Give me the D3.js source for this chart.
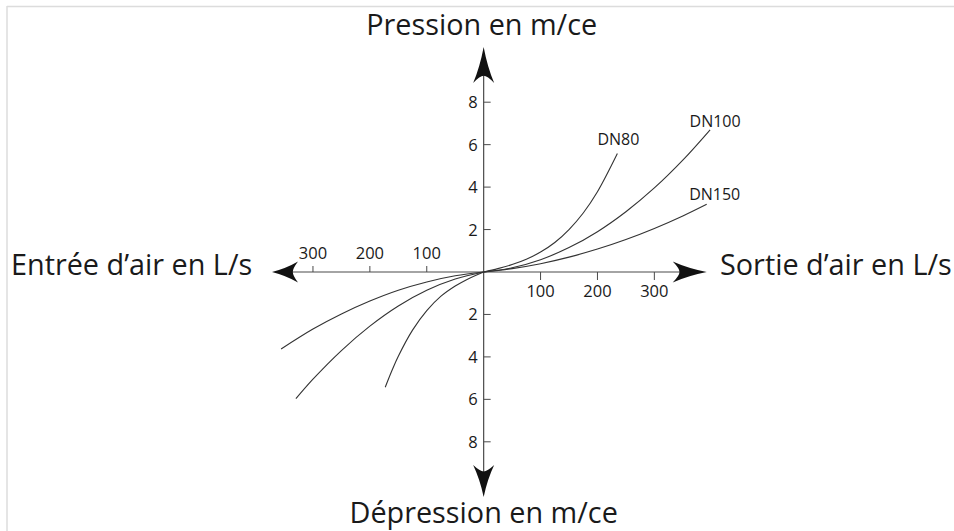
<!DOCTYPE html>
<html>
<head>
<meta charset="utf-8">
<script src="https://cdn.jsdelivr.net/npm/d3@7"></script>
<style>
  html, body { margin: 0; padding: 0; background: #fff; }
  svg { display: block; }
  text { font-family: "Open Sans", "Noto Sans", sans-serif; fill: #1a1a1a; }
</style>
</head>
<body>
<svg id="chart" width="954" height="531"></svg>
<script>
// ---- Data (flow in L/s, pressure in m/ce) ----
const curveNames = ["DN80", "DN100", "DN150"];
const outletDN80  = [[0,0],[25,0.16],[50,0.35],[75,0.6],[100,0.94],[125,1.39],[150,2.0],[175,2.78],[200,3.78],[235,5.58]];
const outletDN100 = [[0,0],[50,0.2],[100,0.58],[150,1.15],[200,1.9],[250,2.84],[300,3.96],[350,5.27],[398,6.7]];
const outletDN150 = [[0,0],[50,0.16],[100,0.39],[150,0.7],[200,1.08],[250,1.53],[300,2.05],[350,2.64],[392,3.19]];
const inletDN80   = [[0,0],[-30,-0.36],[-50,-0.66],[-75,-1.14],[-100,-1.82],[-125,-2.74],[-150,-3.97],[-161,-4.63],[-173,-5.43]];
const inletDN100  = [[0,0],[-50,-0.33],[-100,-0.86],[-150,-1.6],[-200,-2.55],[-250,-3.7],[-300,-5.05],[-330,-5.97]];
const inletDN150  = [[0,0],[-50,-0.18],[-100,-0.47],[-150,-0.86],[-200,-1.37],[-250,-1.98],[-300,-2.69],[-356,-3.63]];
const xTickValues = [-300, -200, -100, 100, 200, 300];
const yTickValues = [-8, -6, -4, -2, 2, 4, 6, 8];
const axisTitles = {
  top: "Pression en m/ce",
  bottom: "Dépression en m/ce",
  left: "Entrée d’air en L/s",
  right: "Sortie d’air en L/s"
};

// ---- Scales ----
const svg = d3.select("#chart");
const x = d3.scaleLinear().domain([-372, 392]).range([272, 706.7]);
const y = d3.scaleLinear().domain([-10.6, 10.6]).range([497, 47]);
const x0 = x(0), y0 = y(0);

// frame lines (light border of the original picture)
svg.append("line").attr("x1", 7).attr("x2", 954).attr("y1", 6.5).attr("y2", 6.5)
  .attr("stroke", "#dcdcdc").attr("stroke-width", 1.5);
svg.append("line").attr("x1", 7).attr("x2", 7).attr("y1", 6).attr("y2", 531)
  .attr("stroke", "#dcdcdc").attr("stroke-width", 1.5);

const axisColor = "#4a4a4a";
// axis lines
svg.append("line").attr("x1", x.range()[0] + 10).attr("x2", x.range()[1] - 10)
  .attr("y1", y0).attr("y2", y0).attr("stroke", axisColor).attr("stroke-width", 1.2);
svg.append("line").attr("x1", x0).attr("x2", x0)
  .attr("y1", y.range()[1] + 10).attr("y2", y.range()[0] - 10)
  .attr("stroke", axisColor).attr("stroke-width", 1.2);

// arrow heads (stealth style), drawn pointing "up" then rotated
function arrow(tx, ty, angle, len, half) {
  const notch = len * 0.8;
  const p = `M0,0 Q${-half*0.35},${len*0.55} ${-half},${len} Q${-half*0.35},${notch} 0,${notch} ` +
            `Q${half*0.35},${notch} ${half},${len} Q${half*0.35},${len*0.55} 0,0 Z`;
  svg.append("path").attr("d", p)
    .attr("transform", `translate(${tx},${ty}) rotate(${angle})`)
    .attr("fill", "#111");
}
arrow(x0, y.range()[1], 0, 36, 10.5);       // top
arrow(x0, y.range()[0], 180, 32, 10.5);     // bottom
arrow(x.range()[0], y0, -90, 26, 10.5);     // left
arrow(x.range()[1], y0, 90, 34, 10.5);      // right

// x ticks
const tickFont = 16.5;
xTickValues.forEach(v => {
  const pos = v > 0;
  svg.append("line").attr("x1", x(v)).attr("x2", x(v))
    .attr("y1", y0).attr("y2", pos ? y0 + 8 : y0 - 6)
    .attr("stroke", axisColor).attr("stroke-width", 1);
  svg.append("text").attr("x", x(v)).attr("y", pos ? y0 + 25 : y0 - 13.5)
    .attr("text-anchor", "middle").attr("font-size", tickFont)
    .text(Math.abs(v));
});
// y ticks
yTickValues.forEach(v => {
  svg.append("line").attr("x1", x0).attr("x2", x0 + 7)
    .attr("y1", y(v)).attr("y2", y(v))
    .attr("stroke", axisColor).attr("stroke-width", 1);
  svg.append("text").attr("x", x0 - 6).attr("y", y(v) + 6)
    .attr("text-anchor", "end").attr("font-size", tickFont)
    .text(Math.abs(v));
});

// curves
const line = d3.line().x(d => x(d[0])).y(d => y(d[1])).curve(d3.curveCatmullRom.alpha(0.5));
const outlets = [outletDN80, outletDN100, outletDN150];
const inlets = [inletDN80, inletDN100, inletDN150];
outlets.concat(inlets).forEach(data => {
  svg.append("path").attr("d", line(data))
    .attr("fill", "none").attr("stroke", "#333").attr("stroke-width", 1.1);
});

// curve labels near curve ends
const labelOffsets = [[1, -8.5], [5, -3], [8, -4.5]];
outlets.forEach((data, i) => {
  const last = data[data.length - 1];
  svg.append("text")
    .attr("x", x(last[0]) + labelOffsets[i][0])
    .attr("y", y(last[1]) + labelOffsets[i][1])
    .attr("text-anchor", "middle").attr("font-size", 16)
    .text(curveNames[i]);
});

// axis titles
const titleFont = 28.8;
svg.append("text").attr("x", x0 - 2).attr("y", 35).attr("text-anchor", "middle")
  .attr("font-size", titleFont).text(axisTitles.top);
svg.append("text").attr("x", x0).attr("y", 523).attr("text-anchor", "middle")
  .attr("font-size", titleFont).text(axisTitles.bottom);
svg.append("text").attr("x", 11).attr("y", 275).attr("text-anchor", "start")
  .attr("font-size", titleFont).text(axisTitles.left);
svg.append("text").attr("x", 720).attr("y", 275).attr("text-anchor", "start")
  .attr("font-size", titleFont).text(axisTitles.right);
</script>
</body>
</html>
